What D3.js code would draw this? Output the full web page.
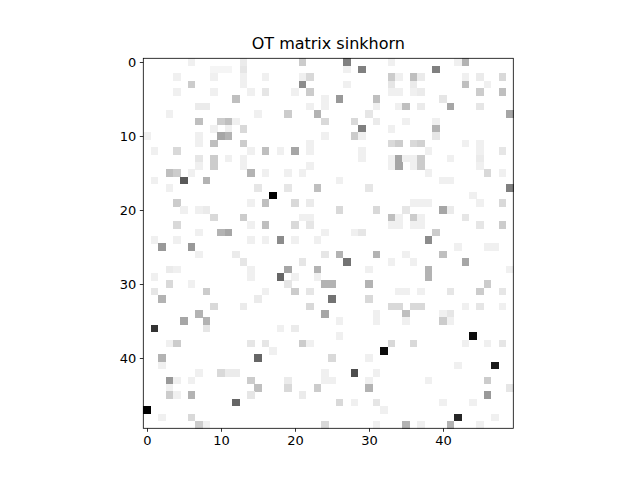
<!DOCTYPE html>
<html><head><meta charset="utf-8">
<script src="https://cdn.jsdelivr.net/npm/d3@7"></script>
<style>body{margin:0;background:#fff}</style></head>
<body><svg id="c" width="640" height="480"></svg>
<script>
const title = "OT matrix sinkhorn";
const nRows = 50, nCols = 50;
const tickValues = [0, 10, 20, 30, 40];
// nonzero cells: [row, col, intensity 0..1]
const f = 0.06;
const cells = [
[0,6,f],[0,13,0.08],[0,21,0.2],[0,27,0.5],[0,33,f],[0,42,f],[0,43,0.3],
[1,9,0.04],[1,10,0.04],[1,11,0.04],[1,13,0.1],[1,27,f],[1,29,0.5],[1,39,0.5],
[2,4,f],[2,9,f],[2,13,f],[2,16,f],[2,21,f],[2,22,0.15],[2,33,0.2],[2,34,f],[2,36,0.25],[2,37,0.08],[2,43,f],[2,45,0.08],[2,48,0.15],
[3,6,0.2],[3,13,f],[3,21,0.45],[3,27,f],[3,33,0.1],[3,36,0.08],[3,43,0.25],[3,46,f],
[4,4,f],[4,9,f],[4,14,f],[4,16,0.1],[4,20,f],[4,22,0.2],[4,33,f],[4,34,f],[4,36,f],[4,37,0.08],[4,45,0.2],[4,48,0.25],
[5,12,0.25],[5,24,f],[5,26,0.4],[5,31,0.25],[5,40,0.1],
[6,7,0.08],[6,8,0.08],[6,22,f],[6,24,f],[6,31,f],[6,34,f],[6,35,0.25],[6,37,0.08],[6,41,0.35],[6,45,0.1],
[7,3,f],[7,15,f],[7,19,0.2],[7,23,0.3],[7,30,0.1],[7,49,0.35],
[8,7,0.25],[8,10,0.2],[8,11,0.25],[8,12,f],[8,24,0.15],[8,28,0.15],[8,31,0.08],[8,35,f],[8,39,f],
[9,9,f],[9,11,f],[9,13,0.15],[9,29,0.5],[9,33,f],[9,39,0.3],
[10,0,f],[10,7,f],[10,10,0.35],[10,11,0.3],[10,24,f],[10,28,0.2],[10,29,f],[10,39,0.1],
[11,7,f],[11,9,0.25],[11,13,0.2],[11,22,f],[11,33,0.15],[11,34,0.2],[11,36,0.15],[11,37,0.18],[11,43,f],[11,45,f],
[12,1,f],[12,4,0.15],[12,14,f],[12,16,0.25],[12,18,f],[12,20,0.35],[12,22,f],[12,29,f],[12,38,f],[12,45,f],[12,48,0.1],
[13,7,0.1],[13,9,0.2],[13,11,f],[13,13,f],[13,29,f],[13,33,f],[13,34,0.35],[13,35,f],[13,36,f],[13,37,0.2],[13,41,f],[13,45,0.08],
[14,7,f],[14,9,0.2],[14,13,f],[14,22,f],[14,33,f],[14,34,0.35],[14,36,f],[14,37,0.2],[14,45,f],
[15,3,0.25],[15,4,0.2],[15,6,f],[15,14,0.3],[15,16,f],[15,19,f],[15,21,f],[15,38,f],[15,46,0.15],[15,48,f],
[16,1,f],[16,5,0.65],[16,8,0.3],[16,26,f],[16,40,f],[16,41,f],
[17,3,f],[17,15,0.1],[17,19,0.1],[17,23,0.25],[17,30,0.1],[17,49,0.5],
[18,17,1.0],[18,44,f],
[19,4,0.2],[19,14,f],[19,16,0.25],[19,20,0.15],[19,22,0.08],[19,36,f],[19,37,f],[19,38,f],[19,45,f],[19,48,0.15],
[20,5,f],[20,7,f],[20,8,0.08],[20,26,0.15],[20,31,0.15],[20,35,0.1],[20,40,0.35],[20,41,0.08],
[21,9,0.15],[21,13,0.2],[21,21,f],[21,22,f],[21,33,0.25],[21,34,f],[21,36,0.2],[21,37,f],[21,43,0.1],
[22,4,0.15],[22,14,f],[22,16,0.25],[22,20,0.15],[22,22,0.1],[22,33,f],[22,34,f],[22,36,f],[22,37,f],[22,45,0.1],[22,48,0.2],
[23,7,f],[23,10,0.3],[23,11,0.35],[23,24,f],[23,28,f],[23,29,0.1],[23,39,0.2],
[24,1,f],[24,4,f],[24,14,f],[24,16,f],[24,18,0.45],[24,20,f],[24,23,f],[24,38,0.45],
[25,2,0.4],[25,6,0.4],[25,42,f],[25,46,f],[25,47,f],
[26,7,f],[26,12,0.08],[26,24,0.1],[26,26,0.3],[26,31,0.3],[26,35,f],[26,40,0.25],
[27,13,0.1],[27,21,0.1],[27,27,0.55],[27,33,f],[27,36,f],[27,43,0.35],
[28,3,0.08],[28,4,f],[28,14,f],[28,19,0.35],[28,23,0.3],[28,30,f],[28,38,0.3],[28,49,f],
[29,1,f],[29,14,f],[29,18,0.6],[29,20,f],[29,23,f],[29,38,0.3],
[30,3,0.15],[30,6,f],[30,19,0.1],[30,24,0.3],[30,25,0.3],[30,30,0.3],[30,46,0.2],
[31,1,0.1],[31,8,0.2],[31,16,f],[31,20,0.2],[31,22,0.1],[31,34,f],[31,35,f],[31,37,f],[31,41,0.1],[31,45,0.2],[31,48,0.1],
[32,2,0.3],[32,15,0.08],[32,25,0.55],[32,30,0.15],
[33,9,0.15],[33,13,0.08],[33,22,0.15],[33,33,0.15],[33,34,0.15],[33,36,0.15],[33,37,0.15],[33,43,f],[33,45,0.1],[33,48,f],
[34,7,0.3],[34,24,0.35],[34,31,f],[34,35,0.25],[34,40,f],[34,41,0.1],
[35,5,0.35],[35,8,0.3],[35,26,f],[35,31,f],[35,35,f],[35,40,0.2],[35,41,f],
[36,1,0.8],[36,8,0.1],[36,18,f],[36,20,0.08],
[37,26,f],[37,44,0.95],
[38,3,f],[38,4,0.2],[38,14,0.1],[38,16,0.1],[38,21,0.2],[38,22,f],[38,33,0.15],[38,36,0.15],[38,43,f],[38,46,f],[38,48,0.1],
[39,17,f],[39,32,0.95],
[40,2,0.3],[40,15,0.6],[40,25,0.15],[40,30,f],
[41,2,f],[41,42,f],[41,47,0.9],
[42,7,f],[42,10,0.15],[42,11,0.08],[42,12,0.08],[42,24,f],[42,28,0.7],[42,31,f],
[43,3,0.4],[43,4,f],[43,6,f],[43,14,0.2],[43,19,0.08],[43,24,f],[43,25,f],[43,30,f],[43,38,f],[43,46,0.2],
[44,3,f],[44,15,0.25],[44,19,0.15],[44,23,0.2],[44,30,0.3],[44,49,0.1],
[45,3,0.2],[45,4,f],[45,6,0.3],[45,14,0.1],[45,21,0.08],[45,46,0.4],
[46,12,0.6],[46,26,0.15],[46,28,f],[46,31,0.1],[46,40,f],[46,44,f],
[47,0,1.0],[47,32,f],
[48,2,f],[48,6,0.15],[48,42,0.85],[48,47,f],
[49,7,0.2],[49,8,f],[49,24,0.15],[49,31,f],[49,35,0.3],[49,37,f],[49,41,0.3],[49,45,f]
];

const svg = d3.select("#c");
const L = 143.3, T = 58.3, S = 370;
const x = d3.scaleBand().domain(d3.range(nCols)).range([L, L + S]);
const y = d3.scaleBand().domain(d3.range(nRows)).range([T, T + S]);
const color = d3.scaleLinear().domain([0, 1]).range(["#ffffff", "#000000"]);

svg.append("g").selectAll("rect").data(cells).join("rect")
  .attr("x", d => x(d[1])).attr("y", d => y(d[0]))
  .attr("width", x.bandwidth() + 0.3).attr("height", y.bandwidth() + 0.3)
  .attr("fill", d => color(d[2])).attr("shape-rendering", "crispEdges");

svg.append("rect").attr("x", L).attr("y", T).attr("width", S).attr("height", S)
  .attr("fill", "none").attr("stroke", "#000").attr("stroke-width", 0.8);

const xs = d3.scaleLinear().domain([-0.5, nCols - 0.5]).range([L, L + S]);
const ys = d3.scaleLinear().domain([-0.5, nRows - 0.5]).range([T, T + S]);
const fontFam = "DejaVu Sans, sans-serif";
const xa = svg.append("g").attr("transform", `translate(0,${T + S})`)
  .call(d3.axisBottom(xs).tickValues(tickValues).tickSize(3.5).tickPadding(3.5));
const ya = svg.append("g").attr("transform", `translate(${L},0)`)
  .call(d3.axisLeft(ys).tickValues(tickValues).tickSize(3.5).tickPadding(3.5));
[xa, ya].forEach(a => {
  a.select(".domain").remove();
  a.selectAll("text").attr("font-family", fontFam).attr("font-size", 13).attr("fill", "#000");
  a.selectAll("line").attr("stroke", "#000").attr("stroke-width", 0.8);
});

svg.append("text").attr("x", L + S / 2).attr("y", 49).attr("text-anchor", "middle")
  .attr("font-family", fontFam).attr("font-size", 16).text(title);
</script></body></html>
